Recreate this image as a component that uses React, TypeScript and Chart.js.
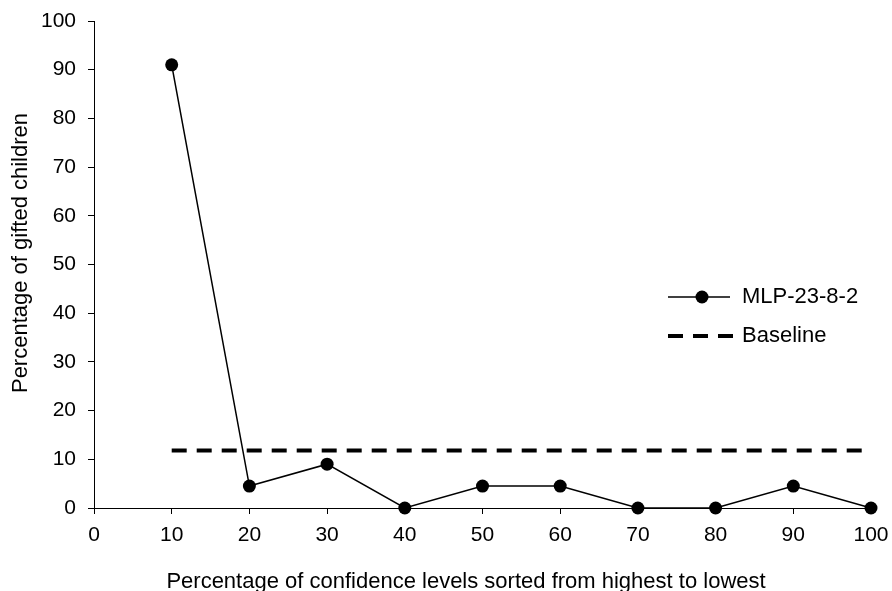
import React, { useEffect, useRef } from "react";
import { Chart, registerables } from "chart.js";

Chart.register(...registerables);

const xValues = [10, 20, 30, 40, 50, 60, 70, 80, 90, 100];
const mlpValues = [91, 4.5, 9, 0, 4.5, 4.5, 0, 0, 4.5, 0];
const baselineValue = 11.8;
const seriesLabels = ["MLP-23-8-2", "Baseline"];
const xTitle = "Percentage of confidence levels sorted from highest to lowest";
const yTitle = "Percentage of gifted children";

const FONT = "'Liberation Sans', Arial, sans-serif";

const overlayPlugin = {
  id: "overlay",
  afterDraw(chart: any) {
    const ctx = chart.ctx;
    ctx.save();
    ctx.fillStyle = "#000";
    ctx.strokeStyle = "#000";
    ctx.font = `22px ${FONT}`;
    // x title
    ctx.textAlign = "center";
    ctx.textBaseline = "alphabetic";
    ctx.fillText(xTitle, 466, 588);
    // y title
    ctx.save();
    ctx.translate(27, 253);
    ctx.rotate(-Math.PI / 2);
    ctx.fillText(yTitle, 0, 0);
    ctx.restore();
    // legend
    ctx.textAlign = "left";
    ctx.textBaseline = "middle";
    const y1 = 297;
    ctx.lineWidth = 1.5;
    ctx.beginPath();
    ctx.moveTo(668, y1);
    ctx.lineTo(730, y1);
    ctx.stroke();
    ctx.beginPath();
    ctx.arc(702, y1, 6.5, 0, Math.PI * 2);
    ctx.fill();
    ctx.fillText(chart.data.datasets[0].label, 742, y1);
    const y2 = 336;
    ctx.lineWidth = 4;
    ctx.setLineDash([15, 10]);
    ctx.beginPath();
    ctx.moveTo(668, y2);
    ctx.lineTo(735, y2);
    ctx.stroke();
    ctx.setLineDash([]);
    ctx.fillText(chart.data.datasets[1].label, 742, y2);
    ctx.restore();
  },
};

export default function App() {
  const ref = useRef<HTMLCanvasElement>(null);
  useEffect(() => {
    if (!ref.current) return;
    const chart = new Chart(ref.current, {
      type: "line",
      data: {
        datasets: [
          {
            label: seriesLabels[0],
            data: xValues.map((x, i) => ({ x, y: mlpValues[i] })),
            borderColor: "#000",
            backgroundColor: "#000",
            borderWidth: 1.5,
            pointRadius: 6.5,
            pointBackgroundColor: "#000",
            pointBorderWidth: 0,
            tension: 0,
            clip: false as any,
            order: 0,
          },
          {
            label: seriesLabels[1],
            data: [
              { x: xValues[0], y: baselineValue },
              { x: xValues[xValues.length - 1], y: baselineValue },
            ],
            borderColor: "#000",
            borderWidth: 4,
            borderDash: [15, 10],
            pointRadius: 0,
            tension: 0,
            order: 1,
          },
        ],
      },
      options: {
        responsive: false,
        animation: false,
        events: [],
        layout: { padding: { left: 0, right: 21, top: 21, bottom: 0 } },
        plugins: { legend: { display: false }, tooltip: { enabled: false }, title: { display: false } },
        scales: {
          x: {
            type: "linear",
            min: 0,
            max: 100,
            ticks: { stepSize: 10, color: "#000", padding: 9, font: { family: FONT, size: 21 }, maxRotation: 0 },
            grid: { drawOnChartArea: false, drawTicks: true, tickLength: 6, color: "#000", lineWidth: 1 },
            border: { display: true, color: "#000", width: 1 },
            afterFit: (s: any) => { s.height = 83; s.paddingLeft = 0; s.paddingRight = 0; },
          },
          y: {
            type: "linear",
            min: 0,
            max: 100,
            ticks: { stepSize: 10, color: "#000", padding: 12, font: { family: FONT, size: 21 } },
            grid: { drawOnChartArea: false, drawTicks: true, tickLength: 6, color: "#000", lineWidth: 1 },
            border: { display: true, color: "#000", width: 1 },
            afterFit: (s: any) => { s.width = 94; s.paddingTop = 0; s.paddingBottom = 0; },
          },
        },
      },
      plugins: [overlayPlugin],
    });
    return () => chart.destroy();
  }, []);
  return (
    <div style={{ position: "absolute", left: 0, top: 0, width: 892, height: 591, background: "#fff" }}>
      <canvas ref={ref} width={892} height={591} style={{ display: "block" }} />
    </div>
  );
}
